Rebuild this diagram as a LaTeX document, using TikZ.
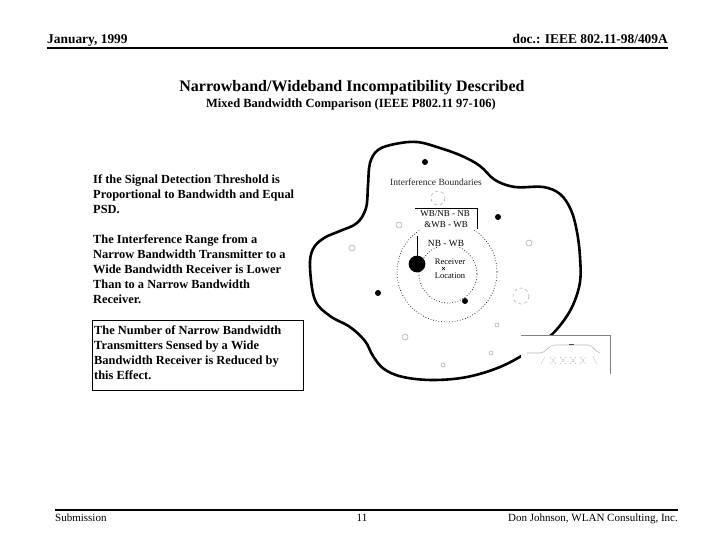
\documentclass[tikz,border=0pt]{standalone}
\usepackage{fontspec}
\setmainfont{Liberation Serif}
\begin{document}
\begin{tikzpicture}[x=1pt,y=-1pt,
  hdr/.style={font=\fontsize{13.4}{15}\selectfont\bfseries, inner sep=0pt},
  ftr/.style={font=\fontsize{11}{13}\selectfont, inner sep=0pt},
  body/.style={font=\fontsize{12.4}{15}\selectfont\bfseries, align=left, inner sep=0pt, anchor=north west},
  lbl/.style={font=\fontsize{9}{10}\selectfont, inner sep=0pt, anchor=base},
  dotc/.style={fill=black},
  openc/.style={draw=gray!70, line width=0.5pt},
  dashc/.style={draw=gray!70, dashed, line width=0.5pt},
  dotring/.style={draw, dotted, line width=0.7pt}
]
\useasboundingbox (0,0) rectangle (720,540);
\fill[white] (0,0) rectangle (720,540);

% header
\node[hdr, anchor=base west] (date) at (47,44) {January, 1999};
\node[hdr, anchor=base east] (doc) at (668,44) {doc.: IEEE 802.11-98/409A};
\draw[line width=2pt] (47,48) -- (668,48);

% footer
\draw[line width=1.5pt] (55,510) -- (678,510);
\node[ftr, anchor=base west] (sub) at (55,521) {Submission};
\node[ftr, anchor=base] (pg) at (362,521) {11};
\node[ftr, anchor=base east] (auth) at (678,521) {Don Johnson, WLAN Consulting, Inc.};

% title
\node[font=\fontsize{16}{18}\selectfont\bfseries, anchor=base, inner sep=0pt] (title) at (352,92) {Narrowband/Wideband Incompatibility Described};
\node[font=\fontsize{12.5}{14}\selectfont\bfseries, anchor=base, inner sep=0pt] (subtitle) at (351,108) {Mixed Bandwidth Comparison (IEEE P802.11 97-106)};

% left text
\node[body] (p1) at (93,174.4) {If the Signal Detection Threshold is\\Proportional to Bandwidth and Equal\\PSD.};
\node[body] (p2) at (93,234.4) {The Interference Range from a\\Narrow Bandwidth Transmitter to a\\Wide Bandwidth Receiver is Lower\\Than to a Narrow Bandwidth\\Receiver.};
\draw[line width=0.8pt] (92,320) rectangle (303,390);
\node[body] (p3) at (94,325.4) {The Number of Narrow Bandwidth\\Transmitters Sensed by a Wide\\Bandwidth Receiver is Reduced by\\this Effect.};

% blob
\draw[line width=2.6pt, line join=round] plot[smooth cycle, tension=0.6] coordinates {
 (310,267) (313,249) (324,238) (340,231) (357,223) (366,208) (368,185) (370,163)
 (378,150) (395,144) (417,142) (440,148) (462,156) (480,166) (495,180) (515,187)
 (543,187) (560,194) (571,210) (577,232) (580,257) (580,282) (573,305) (562,323)
 (548,338) (528,352) (500,367) (467,377) (433,380) (403,377) (384,369) (373,356)
 (365,341) (350,327) (330,316) (315,300)};

% right inset box
\fill[white] (521,335) rectangle (612,376);
\draw[gray, line width=0.8pt] (521,335) -- (610,335) -- (610,374);
\draw[gray!55, line width=0.6pt] (527,353) -- (540,353) .. controls (546,353) and (548,345) .. (555,345) -- (588,345) .. controls (593,345) and (595,352) .. (600,353);
\draw[black!70, line width=1pt] (569,344.5) -- (574,344.5);
\draw[gray!55, line width=0.5pt, dash pattern=on 1.5pt off 1pt]
  (541,364) -- (545,357)
  (550,357) -- (556,364) (550,364) -- (556,357)
  (560,357) -- (566,364) (560,364) -- (566,357)
  (570,357) -- (576,364) (570,364) -- (576,357)
  (580,357) -- (586,364) (580,364) -- (586,357)
  (593,357) -- (597,364);

% interference rings
\draw[dotring] (447,272) circle (50);
\draw[dotring] (448,274) circle (29);

% small markers
\draw[dashc] (438,198) circle (7);
\draw[dashc] (521,296) circle (8);
\foreach \p/\r in {{(399,225)}/3, {(352,248)}/3, {(529,243)}/3, {(405,337)}/3, {(497,325)}/2, {(491,353)}/2, {(443,365)}/2}
  \draw[openc] \p circle (\r);
\foreach \p in {(425,162), (498,217), (378,293), (465,301)}
  \fill \p circle (3);
\fill (417,264) circle (8.4);

% labels
\node[font=\fontsize{9.5}{11}\selectfont, inner sep=0pt, anchor=base, text=black!85] (ib) at (436,185.5) {Interference Boundaries};
\fill[white] (415,208) rectangle (477,230);
\draw[line width=0.7pt] (415,208) -- (477,208) -- (477,229);
\node[lbl] (wbnb) at (445,217) {WB/NB - NB};
\node[lbl] (wbwb) at (446,227) {\&WB - WB};
\node[lbl, font=\fontsize{9.4}{10}\selectfont, fill=white, inner sep=1pt] (nbwb) at (446,246) {NB - WB};
\draw[line width=0.7pt] (417,236) -- (417,256);
\node[lbl, font=\fontsize{8.5}{10}\selectfont] (recv) at (450,264) {Receiver};
\node[lbl, font=\fontsize{8.5}{10}\selectfont] (loc) at (450,278) {Location};
\draw[line width=0.4pt] (442,267) -- (445,270) (445,267) -- (442,270);
\end{tikzpicture}
\end{document}
